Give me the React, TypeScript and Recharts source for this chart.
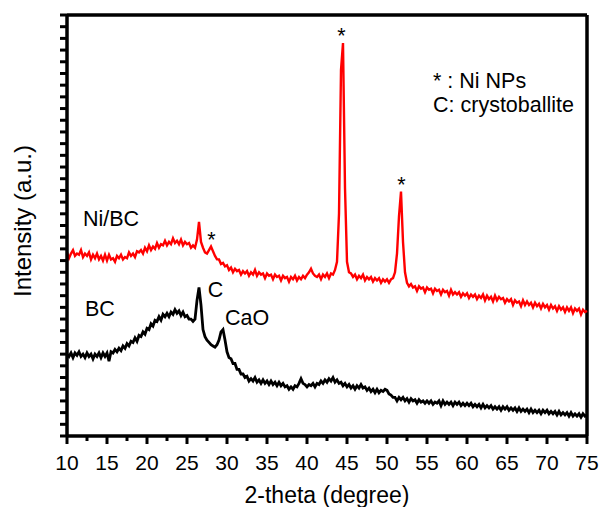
import React from 'react';
import { LineChart, Line, XAxis, YAxis, ReferenceLine, ReferenceDot } from 'recharts';

// scan grid, 0.25 degree steps from 10 to 75
const twoTheta = Array.from({ length: 261 }, (_, i) => 10 + i * 0.25);

// Ni/BC pattern (red), one row per 5 degrees
const niBC = [
  157, 152, 156, 159, 154, 156, 155, 159, 153, 156, 154, 157, 151, 155, 152, 156, 151, 154, 150, 155,
  150, 155, 151, 152, 149, 154, 152, 155, 151, 153, 152, 157, 154, 156, 153, 158, 157, 159, 156, 161,
  158, 163, 159, 162, 160, 165, 161, 164, 163, 167, 163, 166, 164, 169, 165, 167, 164, 168, 163, 166,
  164, 165, 161, 163, 161, 168, 183, 166, 161, 157, 156, 159, 162, 158, 154, 151, 151, 147, 148, 145,
  146, 142, 144, 140, 143, 141, 142, 138, 141, 139, 141, 137, 140, 138, 142, 137, 140, 138, 139, 135,
  139, 137, 138, 134, 138, 136, 137, 133, 137, 135, 136, 132, 136, 134, 137, 133, 136, 134, 137, 135,
  138, 140, 143, 139, 137, 136, 138, 134, 138, 136, 139, 135, 139, 138, 142, 149, 190, 313, 336, 212,
  149, 140, 139, 136, 138, 134, 137, 135, 138, 133, 136, 134, 136, 132, 135, 133, 135, 131, 134, 132,
  134, 131, 134, 135, 140, 156, 188, 209, 166, 140, 131, 128, 130, 127, 128, 124, 128, 126, 127, 123,
  127, 125, 126, 122, 126, 124, 125, 121, 125, 123, 124, 120, 125, 121, 123, 121, 123, 119, 122, 120,
  122, 118, 121, 119, 121, 117, 120, 118, 121, 116, 120, 117, 119, 115, 120, 116, 119, 117, 118, 114,
  117, 115, 117, 112, 116, 114, 115, 111, 116, 112, 115, 112, 114, 110, 114, 111, 113, 109, 113, 110,
  112, 108, 112, 109, 111, 107, 111, 108, 110, 106, 110, 107, 110, 105, 109, 107, 109, 104, 108, 106,
  107,
];

// BC pattern (black)
const bc = [
  70, 68, 71, 67, 71, 69, 72, 68, 70, 67, 71, 68, 70, 66, 70, 68, 71, 67, 71, 68,
  71, 64, 72, 71, 74, 72, 75, 73, 77, 75, 79, 77, 81, 80, 84, 81, 86, 85, 89, 87,
  92, 91, 96, 94, 99, 98, 102, 99, 104, 102, 105, 102, 106, 104, 108, 105, 107, 103, 106, 102,
  103, 100, 100, 98, 100, 116, 127, 112, 91, 85, 82, 80, 78, 77, 76, 78, 82, 89, 91, 82,
  72, 67, 66, 62, 62, 57, 57, 53, 53, 50, 51, 47, 49, 47, 50, 46, 48, 45, 48, 45,
  47, 44, 47, 44, 46, 43, 46, 43, 45, 42, 43, 40, 42, 40, 43, 42, 45, 49, 45, 44,
  42, 44, 43, 45, 42, 45, 44, 47, 45, 48, 46, 49, 47, 50, 46, 48, 45, 46, 43, 45,
  42, 44, 41, 43, 40, 43, 41, 44, 41, 42, 39, 41, 38, 40, 37, 40, 37, 39, 38, 40,
  39, 36, 35, 33, 33, 30, 33, 31, 33, 30, 32, 29, 32, 30, 31, 28, 31, 29, 30, 28,
  30, 28, 30, 27, 29, 28, 30, 26, 30, 27, 29, 27, 29, 26, 29, 27, 29, 26, 28, 26,
  28, 26, 28, 25, 27, 25, 27, 24, 27, 24, 26, 24, 26, 23, 25, 23, 25, 22, 25, 23,
  25, 22, 24, 22, 24, 21, 24, 21, 23, 21, 23, 20, 23, 20, 22, 20, 22, 19, 22, 20,
  22, 19, 21, 19, 21, 18, 21, 18, 20, 18, 20, 17, 20, 17, 19, 17, 19, 16, 19, 17,
  18,
];

const xTicks = [
  10, 12.5, 15, 17.5, 20, 22.5, 25, 27.5, 30, 32.5, 35, 37.5, 40, 42.5, 45, 47.5,
  50, 52.5, 55, 57.5, 60, 62.5, 65, 67.5, 70, 72.5, 75,
];
const yTicks = Array.from({ length: 37 }, (_, i) => i * 10);

// text notes: [2-theta, intensity at text baseline, text, anchor]
const notes: Array<[number, number, string, string]> = [
  [12.0, 180, 'Ni/BC', 'start'],
  [12.25, 103, 'BC', 'start'],
  [27.6, 119, 'C', 'start'],
  [29.75, 95, 'CaO', 'start'],
  [28.06, 162, '*', 'middle'],
  [44.31, 336, '*', 'middle'],
  [51.81, 209, '*', 'middle'],
  [55.75, 298, '* : Ni NPs', 'start'],
  [55.75, 277, 'C: crystoballite', 'start'],
];

const FONT = '"Liberation Sans", Arial, sans-serif';

const data = twoTheta.map((x, i) => ({ x, niBC: niBC[i], bc: bc[i] }));

const XTick = (props: any) => {
  const { x, y, payload } = props;
  const major = payload.value % 5 === 0;
  return (
    <g>
      <line x1={x} y1={y} x2={x} y2={y + (major ? 8 : 5)} stroke="#000" strokeWidth={3} />
      {major && (
        <text x={x} y={y + 34} textAnchor="middle" fontSize={21} fontFamily={FONT} fill="#000">
          {payload.value}
        </text>
      )}
    </g>
  );
};

const YTick = (props: any) => {
  const { x, y } = props;
  return <line x1={x - 7} y1={y} x2={x} y2={y} stroke="#000" strokeWidth={3} />;
};

const NoteText = (text: string, anchor: string) => (props: any) => {
  const { viewBox } = props;
  return (
    <text x={viewBox.x} y={viewBox.y} textAnchor={anchor} fontSize={21.5} fontFamily={FONT} fill="#000">
      {text}
    </text>
  );
};

export default function App() {
  return (
    <div style={{ position: 'absolute', left: 0, top: 0, width: 603, height: 507, background: '#fff' }}>
      <LineChart width={603} height={507} data={data} margin={{ top: 15, right: 16, left: 57, bottom: 31 }}>
        <XAxis
          dataKey="x"
          type="number"
          domain={[10, 75]}
          ticks={xTicks}
          interval={0}
          height={40}
          tickSize={0}
          tickMargin={0}
          tick={<XTick />}
          stroke="#000"
          strokeWidth={3.5}
          axisLine={{ stroke: '#000', strokeWidth: 3.5 }}
        />
        <YAxis
          type="number"
          domain={[0, 360]}
          ticks={yTicks}
          interval={0}
          width={10}
          tickSize={0}
          tickMargin={0}
          tick={<YTick />}
          stroke="#000"
          strokeWidth={3.5}
          axisLine={{ stroke: '#000', strokeWidth: 3.5 }}
        />
        <ReferenceLine y={360} stroke="#000" strokeWidth={3.5} />
        <ReferenceLine x={75} stroke="#000" strokeWidth={3.5} />
        <Line type="linear" dataKey="bc" stroke="#000" strokeWidth={2.8} dot={false} isAnimationActive={false} />
        <Line type="linear" dataKey="niBC" stroke="#ff0000" strokeWidth={2.4} dot={false} isAnimationActive={false} />
        {notes.map(([nx, ny, text, anchor], i) => (
          <ReferenceDot key={i} x={nx} y={ny} r={0} stroke="none" label={NoteText(text, anchor)} />
        ))}
      </LineChart>
      <div
        style={{
          position: 'absolute',
          left: 67,
          width: 520,
          top: 482,
          textAlign: 'center',
          fontFamily: FONT,
          fontSize: 23,
          lineHeight: '26px',
        }}
      >
        2-theta (degree)
      </div>
      <div
        style={{
          position: 'absolute',
          left: 23,
          top: 221,
          transform: 'translate(-50%, -50%) rotate(-90deg)',
          whiteSpace: 'nowrap',
          fontFamily: FONT,
          fontSize: 24,
          lineHeight: '26px',
        }}
      >
        Intensity (a.u.)
      </div>
    </div>
  );
}
